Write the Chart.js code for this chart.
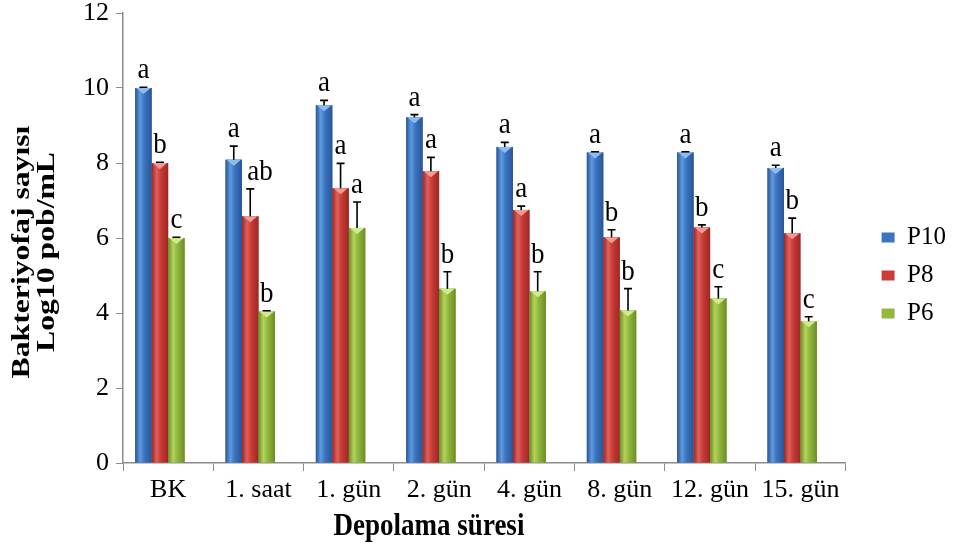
<!DOCTYPE html>
<html lang="tr">
<head>
  <meta charset="UTF-8" />
  <title>Bakteriyofaj sayısı</title>
  <script src="https://cdn.jsdelivr.net/npm/chart.js"></script>
  <style>
    html, body { margin: 0; padding: 0; background: #fff; }
    #wrap { width: 956px; height: 551px; }
  </style>
</head>
<body>
  <div id="wrap"><canvas id="chart"></canvas></div>

  <script>
    // Data
    const categories = ['BK', '1. saat', '1. gün', '2. gün', '4. gün', '8. gün', '12. gün', '15. gün'];

    const p10 = [10.0, 8.09, 9.54, 9.22, 8.43, 8.28, 8.28, 7.87];
    const p8  = [8.0, 6.58, 7.33, 7.78, 6.75, 6.02, 6.28, 6.13];
    const p6  = [6.0, 4.04, 6.27, 4.65, 4.58, 4.07, 4.39, 3.78];

    const p10Err = [0.02, 0.36, 0.13, 0.07, 0.12, 0.02, 0.02, 0.07];
    const p8Err  = [0.02, 0.73, 0.66, 0.37, 0.10, 0.20, 0.07, 0.40];
    const p6Err  = [0.02, 0.02, 0.69, 0.45, 0.52, 0.58, 0.31, 0.12];

    const p10Sig = ['a', 'a', 'a', 'a', 'a', 'a', 'a', 'a'];
    const p8Sig  = ['b', 'ab', 'a', 'a', 'a', 'b', 'b', 'b'];
    const p6Sig  = ['c', 'b', 'a', 'b', 'b', 'b', 'c', 'c'];

    const yMin = 0, yMax = 12, yStep = 2;

    const errors = [p10Err, p8Err, p6Err];
    const letters = [p10Sig, p8Sig, p6Sig];

    // bar shading: edge, highlight, body, top cap
    const shades = [
      { edge: '#2a5596', light: '#5e9be0', body: '#3b74c0', cap: '#8dbdf0' },
      { edge: '#9c2724', light: '#e0605a', body: '#c93c38', cap: '#f29a94' },
      { edge: '#6a8e25', light: '#b2d35c', body: '#93b83e', cap: '#d2ea8e' }
    ];

    const serif = "'Liberation Serif', 'Times New Roman', serif";

    const barDecor = {
      id: 'barDecor',
      afterDatasetsDraw(chart) {
        const ctx = chart.ctx;
        const yScale = chart.scales.y;
        for (let d = 0; d < 3; d++) {
          const meta = chart.getDatasetMeta(d);
          const sh = shades[d];
          meta.data.forEach((el, i) => {
            const w = el.width, left = el.x - w / 2;
            // cylinder-like shading
            const g = ctx.createLinearGradient(left, 0, left + w, 0);
            g.addColorStop(0, sh.edge);
            g.addColorStop(0.3, sh.light);
            g.addColorStop(0.55, sh.body);
            g.addColorStop(1, sh.edge);
            ctx.fillStyle = g;
            ctx.fillRect(left, el.y, w, el.base - el.y);
            // light bevel on top
            ctx.fillStyle = sh.cap;
            ctx.beginPath();
            ctx.moveTo(left + 1, el.y);
            ctx.lineTo(left + w - 1, el.y);
            ctx.lineTo(el.x, el.y + 6);
            ctx.closePath();
            ctx.fill();

            // positive error bar
            const val = chart.data.datasets[d].data[i];
            const top = yScale.getPixelForValue(val + errors[d][i]);
            ctx.strokeStyle = '#000';
            ctx.lineWidth = 1.6;
            ctx.beginPath();
            ctx.moveTo(el.x, el.y);
            ctx.lineTo(el.x, top);
            ctx.moveTo(el.x - 4, top);
            ctx.lineTo(el.x + 4, top);
            ctx.stroke();

            // significance letter
            const txt = letters[d][i];
            ctx.save();
            ctx.fillStyle = '#000';
            ctx.font = '27px ' + serif;
            ctx.textBaseline = 'alphabetic';
            let tx = el.x;
            if (txt.length > 1) { ctx.textAlign = 'left'; tx = el.x - 3; } else { ctx.textAlign = 'center'; }
            ctx.translate(tx, top - 9);
            ctx.scale(1, 1.1);
            ctx.fillText(txt, 0, 0);
            ctx.restore();
          });
        }
      },
      afterDraw(chart) {
        const ctx = chart.ctx;
        const area = chart.chartArea;
        ctx.save();
        ctx.fillStyle = '#000';
        ctx.textAlign = 'center';
        ctx.textBaseline = 'middle';
        ctx.font = 'bold 26px ' + serif;
        // y axis title, two lines
        const cy = (area.top + area.bottom) / 2 + 14;
        [['Bakteriyofaj sayısı', 22], ['Log10 pob/mL', 47]].forEach(([t, x]) => {
          ctx.save();
          ctx.translate(x, cy);
          ctx.rotate(-Math.PI / 2);
          ctx.scale(1.22, 1);
          ctx.fillText(t, 0, 0);
          ctx.restore();
        });
        // x axis title
        ctx.font = 'bold 27px ' + serif;
        ctx.translate(429, 527);
        ctx.scale(1, 1.15);
        ctx.fillText('Depolama süresi', 0, 0);
        ctx.restore();
      }
    };

    const axisGrey = '#8c8c8c';

    new Chart(document.getElementById('chart'), {
      type: 'bar',
      data: {
        labels: categories,
        datasets: [
          { label: 'P10', data: p10, backgroundColor: shades[0].body },
          { label: 'P8', data: p8, backgroundColor: shades[1].body },
          { label: 'P6', data: p6, backgroundColor: shades[2].body },
          // empty slot, Excel leaves room for it in each group
          { label: '', data: categories.map(() => null), backgroundColor: 'rgba(0,0,0,0)' }
        ]
      },
      options: {
        responsive: true,
        maintainAspectRatio: false,
        animation: false,
        devicePixelRatio: 1,
        layout: { padding: { top: 0, right: 0, left: 0, bottom: 0 } },
        datasets: { bar: { categoryPercentage: 0.73, barPercentage: 1.0 } },
        plugins: {
          tooltip: { enabled: false },
          legend: {
            position: 'right',
            labels: {
              filter: item => item.datasetIndex < 3,
              boxWidth: 13,
              boxHeight: 10,
              padding: 13,
              color: '#000',
              font: { family: serif, size: 25 }
            }
          }
        },
        scales: {
          x: {
            grid: { drawOnChartArea: false, drawTicks: true, tickLength: 8, color: axisGrey, offset: true },
            border: { color: axisGrey, width: 1.5 },
            ticks: { color: '#000', font: { family: serif, size: 26 }, padding: 4, maxRotation: 0, autoSkip: false },
            afterFit(s) { s.height = 88; }
          },
          y: {
            min: yMin,
            max: yMax,
            grid: { drawOnChartArea: false, tickLength: 7, color: axisGrey },
            border: { color: axisGrey, width: 1.5 },
            ticks: { stepSize: yStep, color: '#000', font: { family: serif, size: 26 }, padding: 7 },
            afterFit(s) { s.width = 123; s.paddingTop = 13; }
          },
          gap: {
            type: 'linear',
            position: 'right',
            grid: { display: false },
            border: { display: false },
            ticks: { display: false },
            afterFit(s) { s.width = 23; }
          }
        }
      },
      plugins: [barDecor]
    });
  </script>
</body>
</html>
